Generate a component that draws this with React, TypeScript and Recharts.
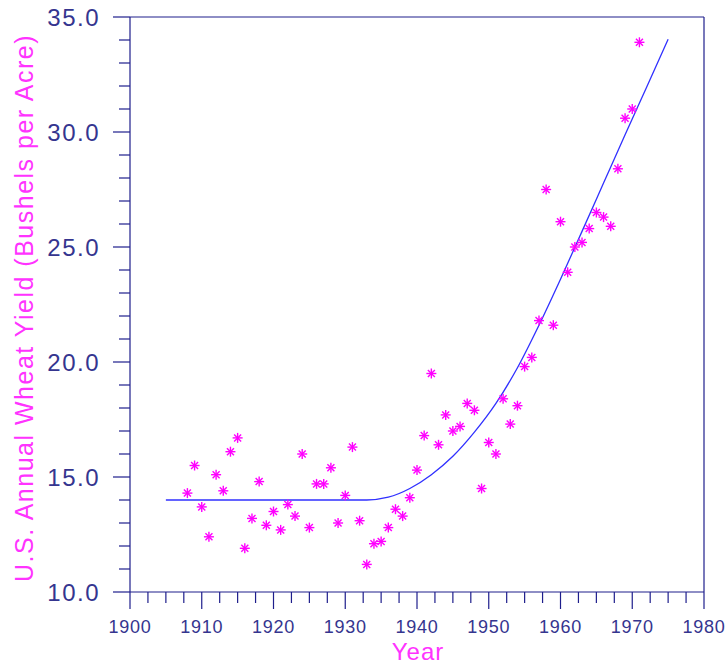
import React from 'react';
import { ComposedChart, Scatter, Line, XAxis, YAxis, ReferenceLine } from 'recharts';

// observed yields, 1908-1971
const years = [
  1908, 1909, 1910, 1911, 1912, 1913, 1914, 1915, 1916, 1917, 1918, 1919,
  1920, 1921, 1922, 1923, 1924, 1925, 1926, 1927, 1928, 1929, 1930, 1931,
  1932, 1933, 1934, 1935, 1936, 1937, 1938, 1939, 1940, 1941, 1942, 1943,
  1944, 1945, 1946, 1947, 1948, 1949, 1950, 1951, 1952, 1953, 1954, 1955,
  1956, 1957, 1958, 1959, 1960, 1961, 1962, 1963, 1964, 1965, 1966, 1967,
  1968, 1969, 1970, 1971,
];
const yields = [
  14.3, 15.5, 13.7, 12.4, 15.1, 14.4, 16.1, 16.7, 11.9, 13.2, 14.8, 12.9,
  13.5, 12.7, 13.8, 13.3, 16.0, 12.8, 14.7, 14.7, 15.4, 13.0, 14.2, 16.3,
  13.1, 11.2, 12.1, 12.2, 12.8, 13.6, 13.3, 14.1, 15.3, 16.8, 19.5, 16.4,
  17.7, 17.0, 17.2, 18.2, 17.9, 14.5, 16.5, 16.0, 18.4, 17.3, 18.1, 19.8,
  20.2, 21.8, 27.5, 21.6, 26.1, 23.9, 25.0, 25.2, 25.8, 26.5, 26.3, 25.9,
  28.4, 30.6, 31.0, 33.9,
];

// fitted curve
const fitYears = [1905, 1933, 1936, 1939, 1942, 1945, 1948, 1951, 1954, 1957, 1960, 1963, 1966, 1969, 1972, 1975];
const fitValues = [14.0, 14.0, 14.12, 14.5, 15.1, 15.9, 16.95, 18.2, 19.75, 21.6, 23.6, 25.68, 27.78, 29.88, 31.95, 34.03];

const xMajorTicks = [1900, 1910, 1920, 1930, 1940, 1950, 1960, 1970, 1980];
const xMinorTicks = [
  1902.5, 1905, 1907.5, 1912.5, 1915, 1917.5, 1922.5, 1925, 1927.5, 1932.5, 1935, 1937.5,
  1942.5, 1945, 1947.5, 1952.5, 1955, 1957.5, 1962.5, 1965, 1967.5, 1972.5, 1975, 1977.5,
];
const yMajorTicks = [10, 15, 20, 25, 30, 35];
const yMinorTicks = [11, 12, 13, 14, 16, 17, 18, 19, 21, 22, 23, 24, 26, 27, 28, 29, 31, 32, 33, 34];

const AXIS = '#1e1e8c';
const LABEL = '#35358f';
const MAGENTA = '#ff33ff';
const FONT = '"Liberation Sans", Arial, sans-serif';

const points = years.map((y, i) => ({ year: y, value: yields[i] }));
const fit = fitYears.map((y, i) => ({ year: y, fit: fitValues[i] }));

const XTick = ({ x, y, payload }: any) => {
  const major = xMajorTicks.includes(payload.value);
  return (
    <g>
      <line x1={x} x2={x} y1={y} y2={y + (major ? 17 : 11)} stroke={AXIS} strokeWidth={1.2} />
      {major && (
        <text x={x} y={y + 41} textAnchor="middle" fill={LABEL} fontSize={18} fontFamily={FONT} letterSpacing={0.8}>
          {payload.value}
        </text>
      )}
    </g>
  );
};

const YTick = ({ x, y, payload }: any) => {
  const major = yMajorTicks.includes(payload.value);
  return (
    <g>
      <line x1={x - (major ? 17 : 11)} x2={x} y1={y} y2={y} stroke={AXIS} strokeWidth={1.2} />
      {major && (
        <text x={x - 30} y={y + 9} textAnchor="end" fill={LABEL} fontSize={24} fontFamily={FONT} letterSpacing={1.5}>
          {payload.value.toFixed(1)}
        </text>
      )}
    </g>
  );
};

// asterisk marker
const Star = ({ cx, cy }: any) => {
  const r = 5;
  const d = 3.5;
  return (
    <g stroke="#ff00ff" strokeWidth={1.4}>
      <line x1={cx - r} x2={cx + r} y1={cy} y2={cy} />
      <line x1={cx} x2={cx} y1={cy - r} y2={cy + r} />
      <line x1={cx - d} x2={cx + d} y1={cy - d} y2={cy + d} />
      <line x1={cx - d} x2={cx + d} y1={cy + d} y2={cy - d} />
    </g>
  );
};

export default function App() {
  return (
    <div style={{ position: 'absolute', left: 0, top: 0, width: 727, height: 664, background: '#fff' }}>
      <ComposedChart
        width={727}
        height={664}
        margin={{ top: 17, right: 23, bottom: 0, left: 0 }}
      >
        <XAxis
          dataKey="year"
          type="number"
          domain={[1900, 1980]}
          ticks={[...xMajorTicks, ...xMinorTicks]}
          interval={0}
          allowDataOverflow
          stroke={AXIS}
          strokeWidth={1.2}
          tickLine={false}
          tickSize={0}
          tickMargin={0}
          tick={<XTick />}
          height={72}
        />
        <YAxis
          type="number"
          domain={[10, 35]}
          ticks={[...yMajorTicks, ...yMinorTicks]}
          interval={0}
          allowDataOverflow
          stroke={AXIS}
          strokeWidth={1.2}
          tickLine={false}
          tickSize={0}
          tickMargin={0}
          tick={<YTick />}
          width={130}
        />
        <ReferenceLine y={35} stroke={AXIS} strokeWidth={1.2} ifOverflow="visible" />
        <ReferenceLine x={1980} stroke={AXIS} strokeWidth={1.2} ifOverflow="visible" />
        <Line
          data={fit}
          dataKey="fit"
          type="monotone"
          stroke="#3030ff"
          strokeWidth={1.3}
          dot={false}
          activeDot={false}
          isAnimationActive={false}
        />
        <Scatter data={points} dataKey="value" shape={<Star />} isAnimationActive={false} />
      </ComposedChart>
      <div
        style={{
          position: 'absolute',
          left: 24,
          top: 308,
          transform: 'translate(-50%, -50%) rotate(-90deg)',
          whiteSpace: 'nowrap',
          color: MAGENTA,
          fontFamily: FONT,
          fontSize: 25,
          letterSpacing: 1.5,
        }}
      >
        U.S. Annual Wheat Yield (Bushels per Acre)
      </div>
      <div
        style={{
          position: 'absolute',
          left: 418,
          top: 652,
          transform: 'translate(-50%, -50%)',
          whiteSpace: 'nowrap',
          color: MAGENTA,
          fontFamily: FONT,
          fontSize: 24,
          letterSpacing: 1,
        }}
      >
        Year
      </div>
    </div>
  );
}
